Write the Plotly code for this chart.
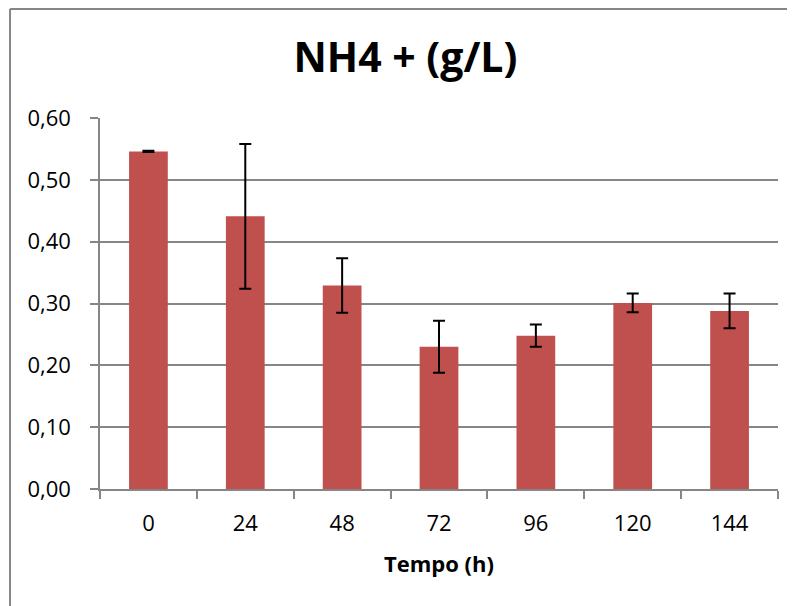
import plotly.graph_objects as go

# data
tempo = ["0", "24", "48", "72", "96", "120", "144"]
nh4 = [0.546, 0.441, 0.329, 0.230, 0.248, 0.301, 0.288]
nh4_err = [0.001, 0.117, 0.044, 0.042, 0.018, 0.015, 0.028]

BAR = "#C0504D"
GRID = "#868686"
FONT = "Open Sans"

fig = go.Figure(go.Bar(
    x=tempo, y=nh4,
    marker=dict(color=BAR, line=dict(width=0)),
    error_y=dict(type="data", array=nh4_err, visible=True,
                 color="black", thickness=2, width=6),
    width=0.4,
))

# outer chart frame (left and top edges visible)
fig.add_shape(type="line", xref="paper", yref="paper",
              x0=-0.1327, x1=1.05, y0=1.2938, y1=1.2938,
              line=dict(color=GRID, width=2))
fig.add_shape(type="line", xref="paper", yref="paper",
              x0=-0.1327, x1=-0.1327, y0=1.2938, y1=-0.33,
              line=dict(color=GRID, width=2))

# page body has an 8px margin, so the figure is 8px smaller and shifted
fig.update_layout(
    width=787, height=598,
    margin=dict(l=92, r=17, t=110, b=117),
    paper_bgcolor="white", plot_bgcolor="white",
    separators=",.",
    showlegend=False,
    font=dict(family=FONT, color="black"),
    title=dict(text="<b>NH4 + (g/L)</b>", x=0.505, xanchor="center",
               y=0.917, yanchor="middle",
               font=dict(size=41, family=FONT, color="black")),
)
fig.update_xaxes(
    type="category",
    showline=True, linecolor=GRID, linewidth=1.5,
    ticks="outside", tickson="boundaries", ticklen=8, tickcolor=GRID, tickwidth=1.5,
    tickfont=dict(size=22),
    ticklabelstandoff=14,
    title=dict(text="<b>Tempo (h)</b>", font=dict(size=22), standoff=20),
    showgrid=False,
)
fig.update_yaxes(
    range=[0, 0.6], dtick=0.1, tickformat=".2f",
    showline=True, linecolor=GRID, linewidth=1.5,
    ticks="outside", ticklen=8, tickcolor=GRID, tickwidth=1.5,
    tickfont=dict(size=22),
    ticklabelstandoff=15,
    showgrid=True, gridcolor=GRID, gridwidth=1.5,
    zeroline=False,
)

fig.write_html("out.html")
